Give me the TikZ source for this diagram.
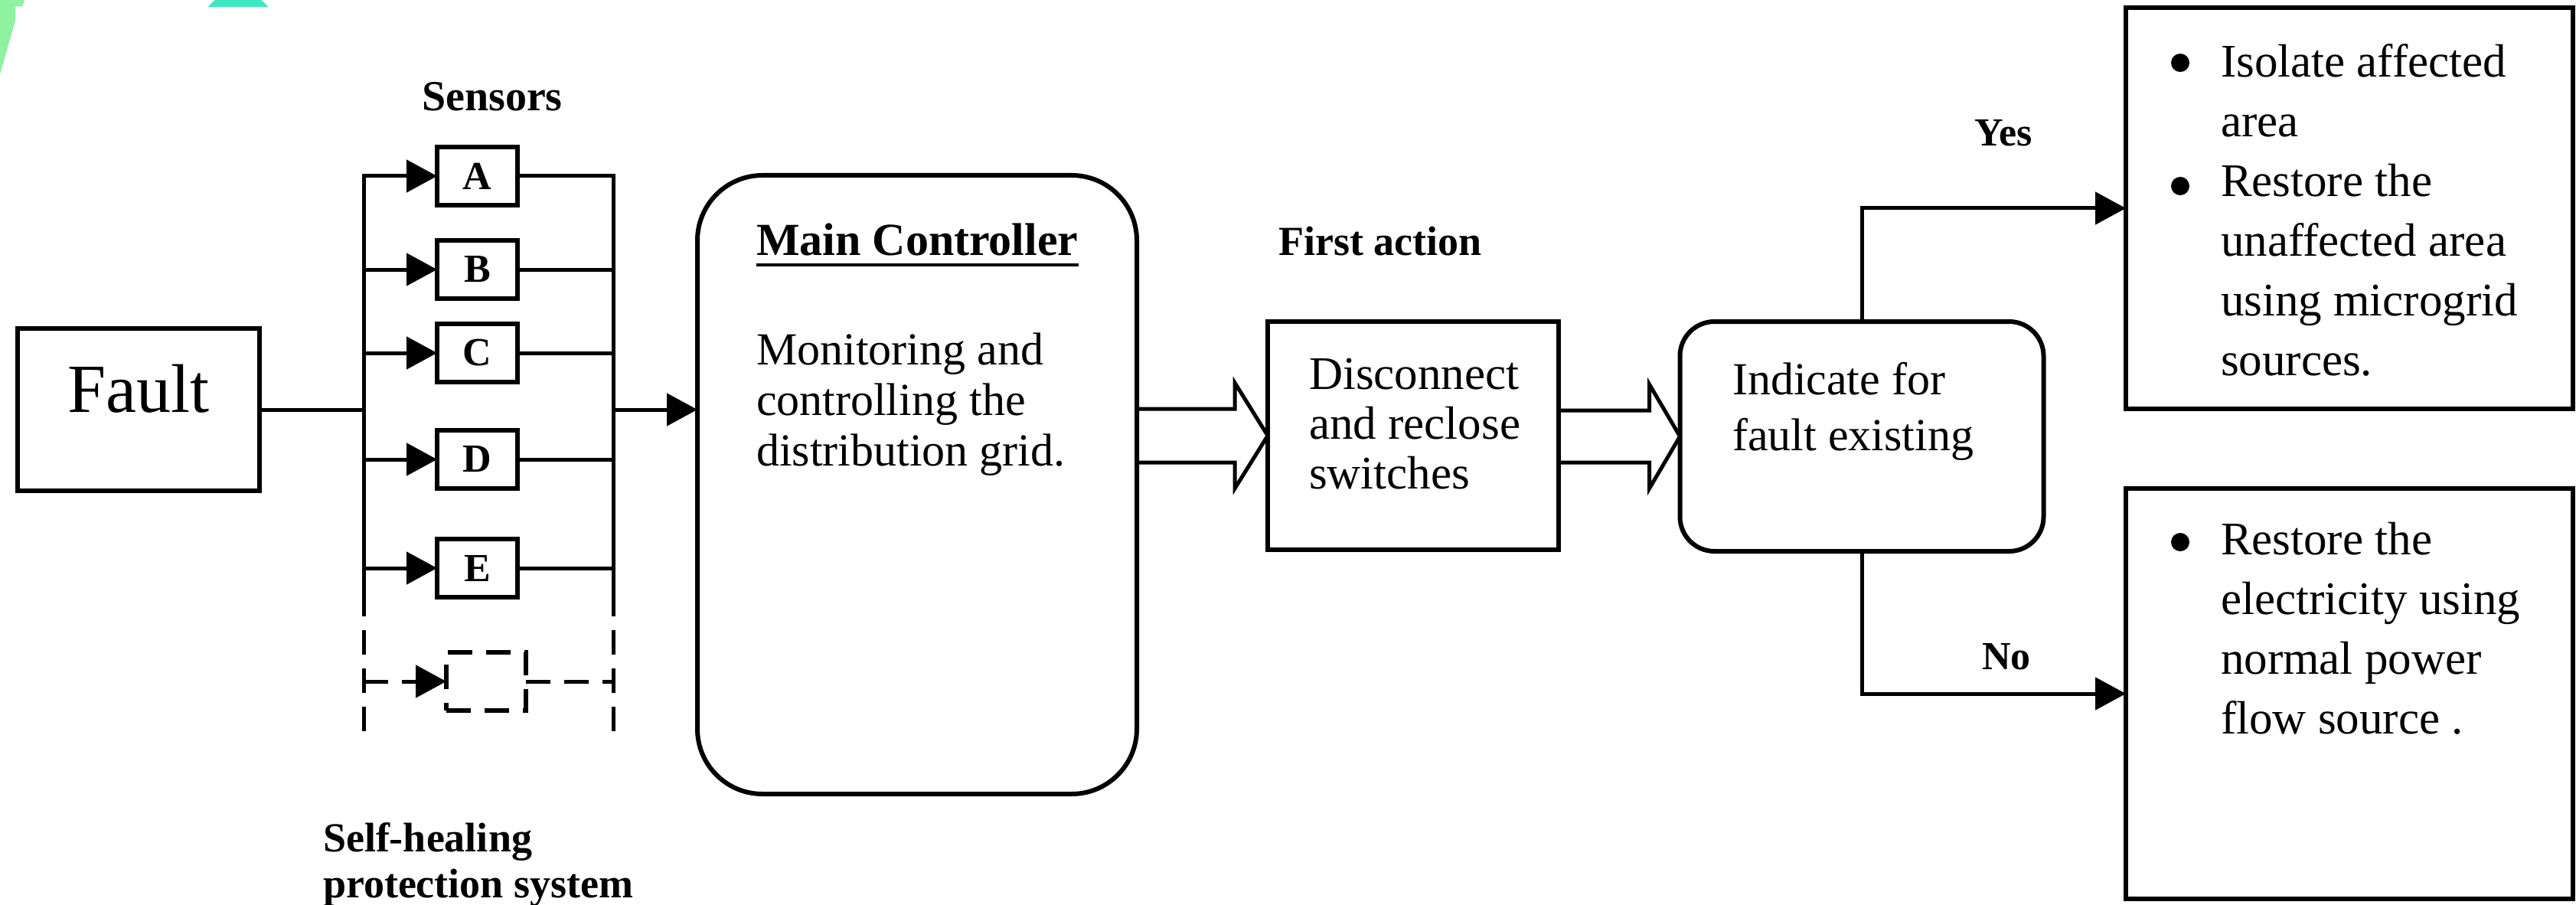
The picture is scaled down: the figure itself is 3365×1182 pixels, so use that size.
\documentclass[tikz,border=0pt]{standalone}
\usepackage{fontspec}
\setmainfont{Liberation Serif}
\usetikzlibrary{arrows.meta,calc}
\newcommand\fsz[2]{\fontsize{#1}{#2}\selectfont}
\definecolor{leafgreen}{RGB}{142,242,160}
\definecolor{tealdot}{RGB}{64,232,192}

\begin{document}
% multi-line text nodes are placed by the baseline of their last line
\begin{tikzpicture}[x=1pt,y=-1pt,
  wire/.style={line width=5pt},
  tip/.style={-{Triangle[length=40pt,width=42pt]}},
  box/.style={draw,line width=6pt,inner sep=0pt,outer sep=0pt},
  sensorbox/.style={box,minimum width=105pt,minimum height=76pt,font=\fsz{52}{60}\bfseries},
  txt/.style={inner sep=0pt,outer sep=0pt,anchor=base west,align=left},
  lbl/.style={inner sep=0pt,font=\fsz{54}{60}\bfseries},
  dashline/.style={dash pattern=on 32pt off 18pt},
  hollow/.style={line width=5pt,line join=miter}
]
\useasboundingbox (0,0) rectangle (3365,1182);

% corner decorations
\fill[leafgreen] (0,0) -- (32,0) -- (29.3,8.3) -- (20,8.3) -- (20,27) -- (0,97) -- cycle;
\begin{scope}
  \clip (0,0) rectangle (3365,8.3);
  \fill[tealdot] (311,40) circle[radius=50pt];
\end{scope}

% fault source
\node[box,minimum width=316pt,minimum height=212pt] (fault) at (181,535) {};
\node[inner sep=0pt,anchor=base,font=\fsz{90}{100}] (faulttxt) at (181,538) {Fault};

% sensors
\node[lbl,font=\fsz{56}{60}\bfseries] (sens) at (643,126) {Sensors};
\foreach \n/\y in {A/230,B/352,C/461,D/600,E/742}
  \node[sensorbox] (s\n) at (623.5,\y) {\n};
\node[box,dashline,minimum width=104pt,minimum height=76pt] (sX) at (635,890) {};

\coordinate (lbx) at (475,805);
\coordinate (rbx) at (801,805);
\coordinate (lbd) at (475,963);
\coordinate (rbd) at (801,963);

\draw[wire,tip] (lbx) -- (lbx |- sA.west) -- (sA.west);
\foreach \n in {B,C,D,E}
  \draw[wire,tip] (lbx |- s\n.west) -- (s\n.west);
\draw[wire] (sA.east) -- (rbx |- sA.east) -- (rbx);
\foreach \n in {B,C,D,E}
  \draw[wire] (s\n.east) -- (rbx |- s\n.east);

\draw[wire,dashline,dash phase=32pt] (lbx) -- (lbd);
\draw[wire,dashline,dash phase=32pt] (rbx) -- (rbd);
\draw[wire,dashline,tip] (lbx |- sX.west) -- (sX.west);
\draw[wire,dashline] (sX.east) -- (rbx |- sX.east);

\node[txt,font=\fsz{54}{60}\bfseries] (shps) at (422,1172) {Self-healing\\protection system};

% main controller
\node[box,rounded corners=85pt,minimum width=574pt,minimum height=808pt] (mc) at (1198,633) {};
\node[txt,font=\fsz{60}{67}\bfseries] (mct) at (988,334) {Main Controller};
\draw[line width=4pt] ([yshift=-12pt]mct.base west) -- ([yshift=-12pt]mct.base east);
\node[txt,font=\fsz{60}{66}] (mcb) at (988,608) {Monitoring and\\controlling the\\distribution grid.};

\draw[wire] (fault.east) -- (fault.east -| lbx);
\draw[wire,tip] (fault.east -| rbx) -- (fault.east -| mc.west);

% first action
\node[lbl] (first) at (1803,315) {First action};
\node[box,minimum width=380pt,minimum height=298pt] (dc) at (1846,569) {};
\node[txt,font=\fsz{61}{65}] (dct) at (1710,638) {Disconnect\\and reclose\\switches};

% fault indication
\node[box,rounded corners=45pt,minimum width=475pt,minimum height=300pt] (ind) at (2432,570) {};
\node[txt,font=\fsz{60}{73}] (indt) at (2263,588) {Indicate for\\fault existing};

% block arrows
\draw[hollow] ($(mc.east |- dc.west)+(0,-35)$) -- ($(dc.west)+(-43,-35)$) -- ($(dc.west)+(-43,-69)$)
  -- (dc.west) -- ($(dc.west)+(-43,69)$) -- ($(dc.west)+(-43,35)$) -- ($(mc.east |- dc.west)+(0,35)$);
\draw[hollow] ($(dc.east |- ind.west)+(0,-34)$) -- ($(ind.west)+(-40,-34)$) -- ($(ind.west)+(-40,-68)$)
  -- (ind.west) -- ($(ind.west)+(-40,68)$) -- ($(ind.west)+(-40,34)$) -- ($(dc.east |- ind.west)+(0,34)$);

% outcomes
\node[box,minimum width=584pt,minimum height=524pt] (tr) at (3069,272) {};
\node[box,minimum width=584pt,minimum height=536pt] (br) at (3069,906) {};
\draw[wire,tip] (ind.north) |- (tr.west);
\draw[wire,tip] (ind.south) |- (br.west);
\node[lbl,font=\fsz{52}{60}\bfseries] (yes) at (2617,174) {Yes};
\node[lbl,font=\fsz{52}{60}\bfseries] (no) at (2621,858) {No};

\fill (2848,82) circle[radius=12pt];
\fill (2848,243) circle[radius=12pt];
\fill (2848,708) circle[radius=12pt];
\node[txt,font=\fsz{61}{78}] (tr1) at (2901,179) {Isolate affected\\area};
\node[txt,font=\fsz{61}{78}] (tr2) at (2901,490) {Restore the\\unaffected area\\using microgrid\\sources.};
\node[txt,font=\fsz{61}{78}] (br1) at (2901,958) {Restore the\\electricity using\\normal power\\flow source .};
\end{tikzpicture}
\end{document}
